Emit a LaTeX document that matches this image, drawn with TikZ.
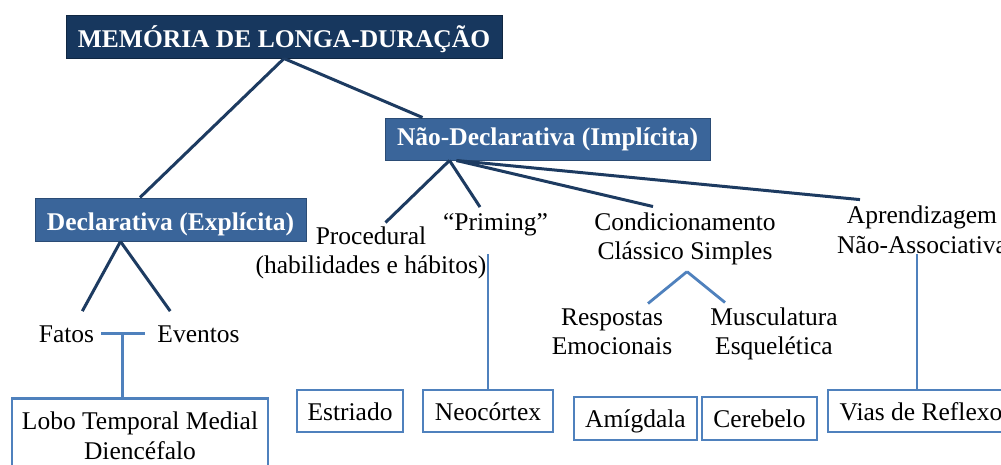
\documentclass[tikz,border=0pt]{standalone}
\usepackage{fontspec}
\setmainfont{Liberation Serif}
\usetikzlibrary{calc}
\definecolor{navy}{HTML}{17375E}
\definecolor{midblue}{HTML}{3A659A}
\definecolor{midborder}{HTML}{2B4C75}
\definecolor{dkline}{HTML}{1D3B61}
\definecolor{blline}{HTML}{4F81BD}
\tikzset{
  every node/.style={font=\fontsize{25.5}{29.5}\selectfont},
  lbl/.style={align=center, inner sep=0pt, anchor=base},
  topbox/.style={anchor=base, inner xsep=0pt, inner ysep=0pt, fill=navy, draw=navy!70!black, line width=1pt, text=white, font=\fontsize{25.5}{29.5}\selectfont\bfseries},
  midbox/.style={anchor=base, inner xsep=0pt, inner ysep=0pt, fill=midblue, draw=midborder, line width=1pt, text=white, font=\fontsize{25.5}{29.5}\selectfont\bfseries},
  leafbox/.style={anchor=base, inner xsep=0pt, inner ysep=0pt, draw=blline, line width=2.8pt, fill=white},
  dk/.style={draw=dkline, line width=3pt},
  bl/.style={draw=blline, line width=2.8pt},
}
\begin{document}
\begin{tikzpicture}[x=1pt,y=-1pt]
\useasboundingbox[fill=white] (0,0) rectangle (1001,464);

% boxes
\node[topbox, minimum width=436pt, text height=32pt, text depth=11pt] (title) at (284,47) {MEMÓRIA DE LONGA-DURAÇÃO};
\node[midbox, minimum width=325pt, text height=27pt, text depth=15pt] (nd) at (547.5,145) {Não-Declarativa (Implícita)};
\node[midbox, minimum width=271pt, text height=32pt, text depth=11pt] (decl) at (170.5,230) {Declarativa (Explícita)};

% text labels (base = baseline of last line)
\node[lbl] (fatos) at (66.5,342) {Fatos};
\node[lbl] (eventos) at (198.5,342) {Eventos};
\node[lbl] (proc) at (371,273.5) {Procedural\\(habilidades e hábitos)};
\node[lbl] (priming) at (495.5,230) {“Priming”};
\node[lbl] (cond) at (685,259.5) {Condicionamento\\Clássico Simples};
\node[lbl] (apr) at (922,253) {Aprendizagem\\Não-Associativa};
\node[lbl] (resp) at (612,354.5) {Respostas\\Emocionais};
\node[lbl] (musc) at (774,354.5) {Musculatura\\Esquelética};

% leaf boxes
\node[draw=blline, line width=2.8pt, fill=white, align=center, inner xsep=0pt, inner ysep=13.6pt, minimum width=256pt, anchor=north] (lobo) at (140,397) {Lobo Temporal Medial\\Diencéfalo};
\node[leafbox, minimum width=106pt, text height=30pt, text depth=12pt] (estr) at (350,420) {Estriado};
\node[leafbox, minimum width=130pt, text height=30pt, text depth=12pt] (neo) at (488,420) {Neocórtex};
\node[leafbox, minimum width=123pt, text height=30pt, text depth=13pt] (amig) at (635.5,427) {Amígdala};
\node[leafbox, minimum width=115pt, text height=30pt, text depth=13pt] (cereb) at (759.5,427) {Cerebelo};
\node[leafbox, minimum width=186pt, text height=30pt, text depth=12pt] (vias) at (921,420) {Vias de Reflexo};

% dark connectors
\draw[dk] (title.south) -- ($(decl.north)+(-30.5,0)$);
\draw[dk] (title.south) -- ($(nd.north west)+(38,0)$);
\coordinate (dapex) at ($(decl.south)+(-50,0)$);
\draw[dk] (dapex) -- ($(fatos.north east)+(-12,-14)$);
\draw[dk] (dapex) -- ($(eventos.north west)+(13,-14)$);
\coordinate (napex) at ($(nd.south west)+(65,0)$);
\coordinate (napex2) at ($(nd.south west)+(72,0)$);
\draw[dk] (napex) -- ($(proc.north)+(14.5,-3.6)$);
\draw[dk] (napex) -- ($(priming.north)+(-15.5,-5.8)$);
\draw[dk] (napex2) -- ($(cond.north)+(-32,-5.6)$);
\draw[dk] (napex2) -- ($(apr.north)+(-62,-6)$);

% blue connectors
\draw[bl] ($(fatos.east)+(7,0)$) -- ($(eventos.west)+(-12,0)$);
\coordinate (fe) at ($(fatos.east)!0.5!(eventos.west)+(-3,0)$);
\draw[bl] (fe) -- (fe |- lobo.north);
\coordinate (capex) at ($(cond.south)+(2,6.5)$);
\draw[bl] (capex) -- ($(resp.north)+(36,-4.6)$);
\draw[bl] (capex) -- ($(musc.north)+(-49,-4.6)$);
\draw[bl] (neo.north) -- ++(0,-135);
\draw[bl] ($(vias.north)+(-4,0)$) -- ++(0,-135);
\end{tikzpicture}
\end{document}
